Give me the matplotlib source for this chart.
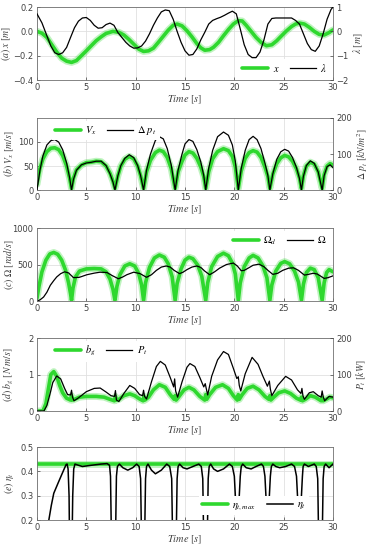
import matplotlib
matplotlib.use('Agg')
import matplotlib.pyplot as plt

plt.rcParams['mathtext.fontset'] = 'stix'
plt.rcParams['font.family'] = ['DejaVu Sans']

GREEN = '#2ed82e'
GRAY = '#404040'

# (a) heave x and wave elevation lambda
t_x = [0, 0.5, 1.0, 1.5, 2.0, 2.5, 3.0, 3.5, 4.0, 4.5, 5.0, 5.5, 6.0, 6.5, 7.0, 7.7, 8.3, 8.8, 9.3, 9.8,
       10.3, 10.8, 11.3, 11.8, 12.3, 12.8, 13.3, 13.8, 14.2, 14.7, 15.2, 15.7, 16.2, 16.6, 17.0, 17.5, 17.9,
       18.4, 18.9, 19.4, 19.9, 20.4, 20.8, 21.2, 21.7, 22.2, 22.7, 23.25, 23.8, 24.3, 24.8, 25.3, 25.8, 26.2,
       26.6, 27.1, 27.6, 28.1, 28.6, 29.1, 29.6, 30]
x_heave = [0, -0.015, -0.05, -0.11, -0.17, -0.22, -0.245, -0.255, -0.24, -0.2, -0.16, -0.118, -0.077, -0.045,
           -0.017, 0.0, -0.008, -0.03, -0.065, -0.105, -0.145, -0.165, -0.16, -0.138, -0.09, -0.04, 0.01, 0.05,
           0.06, 0.045, 0.005, -0.045, -0.1, -0.135, -0.155, -0.15, -0.13, -0.09, -0.036, 0.015, 0.06, 0.088,
           0.085, 0.05, 0.0, -0.05, -0.09, -0.118, -0.11, -0.077, -0.035, 0.005, 0.04, 0.06, 0.068, 0.06, 0.033,
           0.0, -0.025, -0.03, -0.01, 0.012]
t_lam = [0, 0.5, 1.0, 1.4, 1.8, 2.2, 2.6, 3.0, 3.4, 3.8, 4.2, 4.6, 5.0, 5.4, 5.8, 6.2, 6.6, 7.0, 7.4, 7.8, 8.2,
         8.6, 9.0, 9.4, 9.8, 10.2, 10.6, 11.0, 11.4, 11.8, 12.2, 12.6, 13.0, 13.4, 13.8, 14.2, 14.6, 15.0, 15.4,
         15.8, 16.2, 16.6, 17.0, 17.4, 17.8, 18.2, 18.6, 19.0, 19.4, 19.8, 20.2, 20.6, 21.0, 21.4, 21.8, 22.2,
         22.6, 23.0, 23.4, 23.8, 24.2, 24.6, 25.0, 25.4, 25.8, 26.2, 26.6, 27.0, 27.4, 27.8, 28.2, 28.6, 29.0,
         29.4, 29.8, 30]
lam = [0.72, 0.35, -0.18, -0.6, -0.88, -0.95, -0.88, -0.66, -0.25, 0.15, 0.42, 0.55, 0.57, 0.45, 0.25, 0.13,
       0.15, 0.28, 0.34, 0.25, -0.05, -0.25, -0.45, -0.6, -0.69, -0.68, -0.6, -0.4, -0.1, 0.25, 0.55, 0.8, 0.88,
       0.85, 0.5, 0.0, -0.45, -0.8, -0.98, -0.95, -0.72, -0.35, -0.04, 0.3, 0.45, 0.52, 0.58, 0.66, 0.75, 0.83,
       0.72, 0.1, -0.55, -0.95, -1.08, -1.08, -0.85, -0.35, 0.3, 0.53, 0.55, 0.55, 0.55, 0.55, 0.55, 0.45, 0.3,
       -0.1, -0.5, -0.75, -0.82, -0.6, -0.1, 0.5, 0.9, 1.0]

# (b) air velocity Vx and pressure drop
t_arch = [0, 0.3, 0.6, 1.0, 1.4, 1.8, 2.2, 2.6, 3.0, 3.3, 3.5,
          3.7, 4.0, 4.5, 5.0, 5.5, 6.0, 6.5, 7.0, 7.4, 7.7, 7.9,
          8.2, 8.5, 8.9, 9.35, 9.8, 10.2, 10.5, 10.8,
          11.1, 11.5, 12.0, 12.4, 12.8, 13.2, 13.6, 14.0,
          14.3, 14.7, 15.0, 15.4, 15.8, 16.2, 16.6, 16.9, 17.1,
          17.4, 17.8, 18.3, 18.9, 19.4, 19.8, 20.1, 20.4,
          20.7, 21.1, 21.5, 21.9, 22.3, 22.7, 23.1, 23.4, 23.6,
          23.9, 24.3, 24.7, 25.1, 25.5, 25.9, 26.3, 26.6, 26.8,
          27.0, 27.3, 27.7, 28.1, 28.5, 28.9,
          29.1, 29.4, 29.7, 30]
vx = [12, 45, 65, 80, 87, 88, 84, 72, 50, 25, 3,
      25, 42, 52, 57, 58, 60, 59, 50, 35, 18, 3,
      30, 50, 64, 70, 65, 50, 30, 3,
      38, 62, 78, 83, 80, 68, 45, 3,
      38, 60, 73, 80, 77, 66, 48, 28, 3,
      38, 65, 80, 86, 82, 70, 48, 3,
      40, 66, 78, 82, 79, 68, 48, 28, 3,
      33, 55, 67, 72, 69, 60, 44, 25, 3,
      30, 50, 58, 54, 38, 3,
      32, 50, 55, 52]
dp = [0, 55, 95, 125, 137, 140, 133, 112, 75, 35, 0,
      30, 55, 70, 75, 77, 80, 80, 68, 45, 22, 0,
      40, 68, 88, 98, 90, 68, 40, 0,
      55, 100, 138, 148, 142, 115, 70, 0,
      55, 100, 128, 140, 135, 112, 78, 40, 0,
      60, 110, 148, 161, 152, 125, 80, 0,
      60, 110, 140, 149, 140, 115, 75, 40, 0,
      45, 85, 106, 113, 108, 90, 62, 32, 0,
      38, 68, 81, 74, 50, 0,
      40, 65, 70, 62]

# (c) turbine speed reference and actual
t_omd = [0, 0.2, 0.5, 0.9, 1.3, 1.7, 2.1, 2.5, 2.9, 3.2, 3.4, 3.5,
         3.65, 3.9, 4.3, 5.0, 5.8, 6.5, 7.0, 7.4, 7.7, 7.9,
         8.1, 8.4, 8.9, 9.4, 9.9, 10.3, 10.6, 10.8,
         11.0, 11.4, 11.9, 12.4, 12.9, 13.3, 13.7, 14.0,
         14.2, 14.6, 15.0, 15.4, 15.8, 16.3, 16.7, 17.1,
         17.3, 17.7, 18.3, 18.9, 19.4, 19.8, 20.1, 20.4,
         20.6, 21.0, 21.5, 21.9, 22.4, 22.9, 23.3, 23.6,
         23.8, 24.2, 24.7, 25.1, 25.6, 26.1, 26.5, 26.8,
         27.0, 27.3, 27.7, 28.1, 28.5, 28.9,
         29.1, 29.35, 29.6, 30]
omega_d = [40, 200, 400, 560, 645, 665, 640, 560, 420, 250, 100, 10,
           180, 330, 410, 440, 445, 440, 400, 300, 160, 10,
           200, 360, 480, 510, 480, 380, 220, 10,
           250, 460, 590, 630, 600, 510, 330, 10,
           240, 440, 560, 600, 580, 490, 340, 10,
           250, 470, 610, 655, 620, 520, 370, 10,
           250, 470, 590, 625, 590, 480, 320, 10,
           220, 410, 515, 540, 510, 410, 260, 10,
           230, 390, 450, 430, 320, 10,
           250, 390, 430, 400]
t_om = [0, 0.3, 0.67, 1.0, 1.35, 1.7, 2.0, 2.4, 2.8, 3.2, 3.7, 4.3, 5.05, 5.8, 6.4, 7.1, 7.6, 8.25, 8.7, 9.1,
        9.8, 10.45, 11.1, 11.6, 12.1, 12.6, 13.1, 13.5, 13.9, 14.45, 14.8, 15.2, 15.7, 16.2, 16.6, 17.0, 17.5,
        18.0, 18.5, 19.2, 19.9, 20.3, 20.7, 21.0, 21.4, 21.9, 22.5, 23.0, 23.4, 23.9, 24.4, 24.9, 25.5, 26.0,
        26.5, 27.1, 27.5, 28.0, 28.4, 28.7, 29.1, 29.5, 30]
omega = [0, 15, 55, 120, 216, 280, 330, 375, 400, 385, 320, 325, 360, 382, 395, 390, 350, 305, 330, 360, 395,
         375, 325, 360, 420, 465, 480, 465, 420, 375, 395, 430, 465, 480, 460, 410, 360, 400, 450, 500, 520, 480,
         415, 420, 450, 490, 505, 470, 420, 365, 380, 420, 450, 455, 420, 355, 365, 380, 370, 345, 310, 320, 345]

# (d) generator damping and turbine power
t_bg = [0, 0.6, 0.9, 1.15, 1.4, 1.7, 2.0, 2.3, 2.6, 3.0, 3.4, 3.5, 3.6, 3.8, 4.3, 5.0, 6.0, 6.8, 7.4, 7.85,
        7.95, 8.05, 8.3, 8.8, 9.4, 9.9, 10.4, 10.75, 10.85, 10.95, 11.3, 11.8, 12.4, 13.0, 13.5, 13.9, 14.0,
        14.1, 14.4, 14.9, 15.4, 15.9, 16.5, 17.0, 17.1, 17.2, 17.5, 18.1, 18.8, 19.4, 19.9, 20.3, 20.4, 20.5,
        20.8, 21.3, 21.9, 22.5, 23.1, 23.5, 23.6, 23.7, 24.0, 24.5, 25.1, 25.7, 26.3, 26.7, 26.8, 26.9, 27.2,
        27.7, 28.2, 28.8, 28.9, 29.0, 29.3, 29.7, 30]
b_g = [0, 0, 0.2, 0.6, 1.0, 1.08, 0.95, 0.7, 0.5, 0.35, 0.3, 0.42, 0.3, 0.32, 0.38, 0.4, 0.4, 0.38, 0.32,
       0.28, 0.4, 0.3, 0.32, 0.42, 0.47, 0.42, 0.33, 0.28, 0.4, 0.3, 0.38, 0.58, 0.72, 0.65, 0.45, 0.32, 0.42,
       0.3, 0.4, 0.58, 0.65, 0.58, 0.4, 0.3, 0.45, 0.32, 0.45, 0.65, 0.72, 0.62, 0.42, 0.3, 0.45, 0.32, 0.45,
       0.62, 0.68, 0.58, 0.4, 0.32, 0.42, 0.3, 0.38, 0.5, 0.55, 0.48, 0.35, 0.3, 0.38, 0.28, 0.32, 0.42, 0.38,
       0.28, 0.36, 0.28, 0.32, 0.38, 0.36]
t_pt = [0, 0.7, 1.0, 1.3, 1.6, 2.0, 2.4, 2.8, 3.1, 3.4, 3.5, 3.6, 3.75, 4.2, 5.0, 5.8, 6.4, 7.0, 7.5, 7.85,
        7.95, 8.05, 8.3, 8.8, 9.4, 9.9, 10.4, 10.7, 10.8, 10.9, 11.1, 11.6, 12.1, 12.5, 13.0, 13.5, 13.85, 13.95,
        14.05, 14.25, 14.7, 15.2, 15.5, 16.0, 16.5, 16.9, 17.05, 17.15, 17.3, 17.7, 18.3, 18.9, 19.4, 19.9,
        20.25, 20.4, 20.5, 20.65, 21.1, 21.8, 22.4, 22.9, 23.35, 23.55, 23.65, 23.8, 24.4, 25.2, 25.8, 26.4,
        26.75, 26.85, 26.95, 27.1, 27.6, 28.0, 28.5, 28.8, 28.9, 29.0, 29.15, 29.6, 30]
p_t = [0, 0, 15, 45, 78, 96, 88, 62, 45, 44, 57, 38, 28, 36, 53, 62, 63, 52, 42, 40, 56, 30, 26, 48, 70, 62,
       45, 42, 57, 40, 33, 80, 122, 136, 126, 92, 66, 88, 55, 38, 80, 120, 130, 122, 92, 66, 75, 62, 44, 95,
       140, 163, 155, 117, 89, 94, 70, 55, 102, 147, 128, 95, 68, 82, 60, 42, 70, 95, 85, 58, 48, 62, 42, 32,
       50, 53, 42, 38, 55, 40, 28, 40, 38]

# (e) turbine efficiency
t_eta_max = [0, 30]
eta_max = [0.43, 0.43]
t_eta = [1.0, 1.2, 1.45, 1.7, 2.2, 2.7, 2.95, 3.05, 3.15, 3.25, 3.3,
         3.55, 3.62, 3.72, 3.85, 4.2, 4.6, 5.5, 6.5, 7.1, 7.35, 7.45, 7.55,
         7.95, 8.05, 8.15, 8.35, 8.7, 9.2, 9.7, 10.1, 10.35, 10.5, 10.6,
         10.9, 11.0, 11.1, 11.25, 11.6, 12.0, 12.6, 13.15, 13.45, 13.65, 13.75,
         14.1, 14.2, 14.3, 14.45, 14.8, 15.2, 15.8, 16.4, 16.65, 16.8, 16.9,
         17.25, 17.35, 17.45, 17.6, 17.9, 18.3, 18.9, 19.5, 19.8, 20.0, 20.1, 20.15, 20.45, 20.5, 20.6, 20.7,
         20.85, 21.2, 21.7, 22.2, 22.75, 22.95, 23.1, 23.2, 23.25, 23.5, 23.55, 23.65, 23.75, 23.9, 24.2, 24.6,
         25.2, 25.8, 26.1, 26.3, 26.4, 26.45, 26.75, 26.8, 26.9, 26.97, 27.1, 27.5, 28.1, 28.3, 28.45, 28.55,
         28.9, 29.0, 29.1, 29.25, 29.6, 30]
eta = [0.16, 0.2, 0.26, 0.31, 0.358, 0.405, 0.428, 0.43, 0.41, 0.3, 0.1,
       0.1, 0.3, 0.41, 0.43, 0.425, 0.42, 0.425, 0.43, 0.432, 0.425, 0.38, 0.1,
       0.1, 0.38, 0.42, 0.43, 0.415, 0.405, 0.415, 0.43, 0.42, 0.37, 0.1,
       0.1, 0.37, 0.42, 0.43, 0.405, 0.39, 0.405, 0.43, 0.42, 0.37, 0.1,
       0.1, 0.37, 0.42, 0.43, 0.415, 0.41, 0.42, 0.43, 0.42, 0.37, 0.1,
       0.1, 0.37, 0.42, 0.43, 0.41, 0.40, 0.41, 0.43, 0.42, 0.38, 0.3, 0.27, 0.27, 0.3, 0.38, 0.42,
       0.43, 0.415, 0.41, 0.42, 0.43, 0.42, 0.38, 0.3, 0.27, 0.27, 0.3, 0.38, 0.42, 0.43, 0.42, 0.415,
       0.42, 0.43, 0.42, 0.38, 0.3, 0.27, 0.27, 0.3, 0.38, 0.42, 0.43, 0.42, 0.43, 0.42, 0.37, 0.1,
       0.1, 0.37, 0.42, 0.43, 0.415, 0.43]


def style_axis(ax, ylabel, label_x=-0.07):
    ax.set_xlim(0, 30)
    ax.set_xticks(range(0, 31, 5))
    ax.tick_params(labelsize=6, colors=GRAY, direction='in', length=2, width=0.5, pad=2.5)
    ax.grid(True, color='#e0e0e0', linewidth=0.6)
    ax.set_axisbelow(True)
    for s in ax.spines.values():
        s.set_color('#707070')
        s.set_linewidth(0.6)
    ax.set_xlabel(r'$Time\ [s]$', fontsize=7.5, color=GRAY, labelpad=1)
    ax.set_ylabel(ylabel, fontsize=7, color=GRAY)
    ax.yaxis.set_label_coords(label_x, 0.5)


def green_line(ax, t, y):
    ax.plot(t, y, color=GREEN, lw=5, alpha=0.3, solid_capstyle='round')
    h, = ax.plot(t, y, color=GREEN, lw=2.6, solid_capstyle='round')
    return h


def black_line(ax, t, y):
    h, = ax.plot(t, y, color='black', lw=0.9)
    return h


def right_axis(ax, ylim, ticks, label):
    ax2 = ax.twinx()
    ax2.set_ylim(*ylim)
    ax2.set_yticks(ticks)
    ax2.tick_params(labelsize=6, colors=GRAY, direction='in', length=2, width=0.5, pad=2.5)
    for s in ax2.spines.values():
        s.set_visible(False)
    ax2.set_ylabel(label, fontsize=7, color=GRAY, labelpad=2)
    return ax2


def add_legend(ax, handles, labels, loc, anchor):
    leg = ax.legend(handles, labels, loc=loc, bbox_to_anchor=anchor, ncol=2, fontsize=7.5,
                    handlelength=2.5, columnspacing=1.0, handletextpad=0.4, borderpad=0.3,
                    frameon=True, fancybox=False, borderaxespad=0.3)
    leg.get_frame().set_edgecolor('none')
    leg.get_frame().set_facecolor('white')
    leg.get_frame().set_alpha(1)
    leg.set_zorder(10)


fig = plt.figure(figsize=(3.73, 5.5), dpi=100)
left, width = 0.0992, 0.7936

# panel a
ax = fig.add_axes([left, 0.8545, width, 0.1327])
style_axis(ax, r'$(a)\ x\ [m]$', label_x=-0.082)
ax.set_ylim(-0.4, 0.2)
ax.set_yticks([-0.4, -0.2, 0, 0.2])
hg = green_line(ax, t_x, x_heave)
ax2 = right_axis(ax, (-2, 1), [-2, -1, 0, 1], r'$\lambda\ [m]$')
hb = black_line(ax2, t_lam, lam)
add_legend(ax2, [hg, hb], [r'$x$', r'$\lambda$'], 'lower right', (1.0, 0.0))

# panel b
ax = fig.add_axes([left, 0.6545, width, 0.131])
style_axis(ax, r'$(b)\ V_x\ [m/s]$')
ax.set_ylim(0, 150)
ax.set_yticks([0, 50, 100])
hg = green_line(ax, t_arch, vx)
ax2 = right_axis(ax, (0, 200), [0, 100, 200], r'$\Delta\ p_t\ [kN/m^2]$')
hb = black_line(ax2, t_arch, dp)
add_legend(ax2, [hg, hb], [r'$V_x$', r'$\Delta\ p_t$'], 'upper left', (0.04, 1.0))

# panel c
ax = fig.add_axes([left, 0.4527, width, 0.1327])
style_axis(ax, r'$(c)\ \Omega\ [rad/s]$')
ax.set_ylim(0, 1000)
ax.set_yticks([0, 500, 1000])
hg = green_line(ax, t_omd, omega_d)
hb = black_line(ax, t_om, omega)
add_legend(ax, [hg, hb], [r'$\Omega_d$', r'$\Omega$'], 'upper right', (1.0, 1.0))

# panel d
ax = fig.add_axes([left, 0.2527, width, 0.1327])
style_axis(ax, r'$(d)\ b_g\ [N\ m/s]$')
ax.set_ylim(0, 2)
ax.set_yticks([0, 1, 2])
hg = green_line(ax, t_bg, b_g)
ax2 = right_axis(ax, (0, 200), [0, 100, 200], r'$P_t\ [kW]$')
hb = black_line(ax2, t_pt, p_t)
add_legend(ax2, [hg, hb], [r'$b_g$', r'$P_t$'], 'upper left', (0.04, 1.0))

# panel e
ax = fig.add_axes([left, 0.0545, width, 0.1327])
style_axis(ax, r'$(e)\ \eta_t$')
ax.set_ylim(0.2, 0.5)
ax.set_yticks([0.2, 0.3, 0.4, 0.5])
hg = green_line(ax, t_eta_max, eta_max)
hb = black_line(ax, t_eta, eta)
hb.set_linewidth(1.1)
add_legend(ax, [hg, hb], [r'$\eta_{t,max}$', r'$\eta_t$'], 'lower right', (0.93, 0.03))

fig.savefig('out.png', dpi=100)
